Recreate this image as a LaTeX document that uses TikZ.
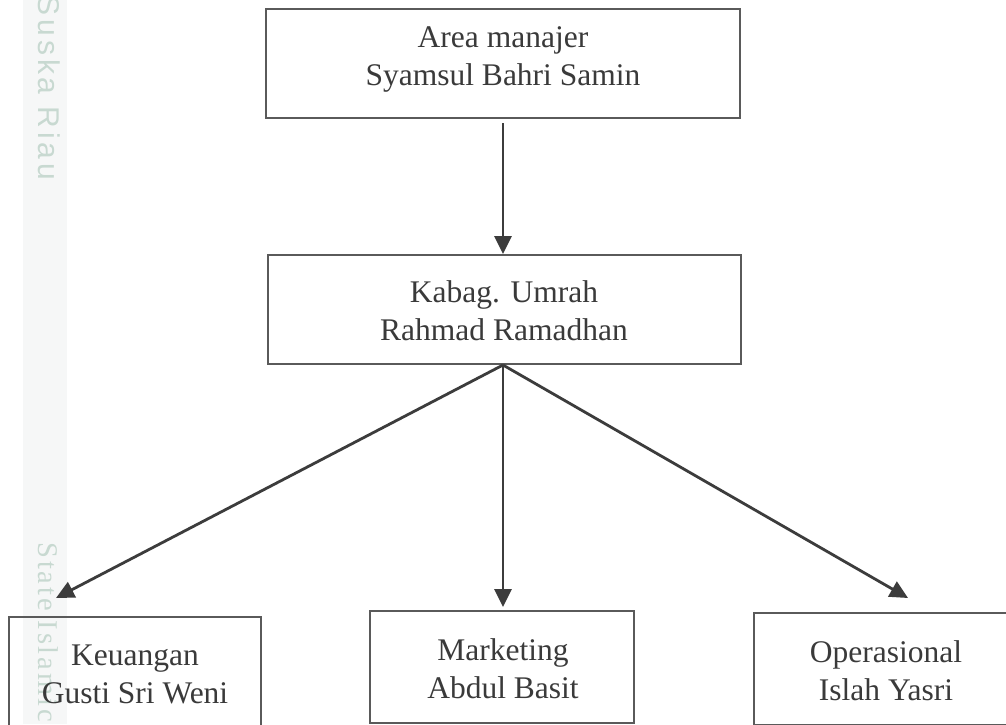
\documentclass[tikz,border=0pt]{standalone}
\usepackage{fontspec}
\setmainfont{Liberation Serif}
\newfontfamily\wmsans[LetterSpace=13]{Liberation Sans}
\newfontfamily\wmserif[LetterSpace=10]{Liberation Serif}
\usetikzlibrary{arrows.meta}
\definecolor{txt}{HTML}{3A3A3A}
\definecolor{edge}{HTML}{5A5A5A}
\definecolor{arr}{HTML}{3C3C3C}
\definecolor{wm}{HTML}{C8D9D1}
\definecolor{band}{HTML}{F6F7F7}
\begin{document}
\begin{tikzpicture}[x=1pt,y=-1pt,
  box/.style={draw=edge,line width=1.8pt,inner sep=0pt},
  lbl/.style={text=txt,align=center,inner sep=0pt,font=\fontsize{31.5}{38}\selectfont},
  conn/.style={draw=arr,line width=2.8pt,-{Triangle[length=18pt,width=17pt]}},
  wmtext/.style={text=wm,rotate=-90,inner sep=0pt}]
\useasboundingbox (0,0) rectangle (1006,724);
\fill[white] (0,0) rectangle (1006,724);
% watermark
\fill[band] (23,0) rectangle (67,724);
\node[wmtext,font=\wmsans\fontsize{30}{30}\selectfont] (wm1) at (49,88) {Suska Riau};
\node[wmtext,font=\wmserif\fontsize{28.5}{28.5}\selectfont] (wm2) at (48,632) {State Islamic};
% boxes
\node[box,minimum width=474pt,minimum height=109pt] (b1) at (503,63.5) {};
\node[box,minimum width=473pt,minimum height=109pt] (b2) at (504.5,309.5) {};
\node[box,minimum width=252pt,minimum height=112pt] (b3) at (135,673) {};
\node[box,minimum width=264pt,minimum height=112pt] (b4) at (502,667) {};
\node[box,minimum width=264pt,minimum height=112pt] (b5) at (886,669) {};
% texts
\node[lbl] (t1) at (503,58.4) {\strut Area manajer\\\strut Syamsul Bahri Samin};
\node[lbl] (t2) at (504,313.4) {\strut Kabag. Umrah\\\strut Rahmad Ramadhan};
\node[lbl] (t3) at (135,676.4) {\strut Keuangan\\\strut Gusti Sri Weni};
\node[lbl] (t4) at (503,671.4) {\strut Marketing\\\strut Abdul Basit};
\node[lbl] (t5) at (886,673.4) {\strut Operasional\\\strut Islah Yasri};
% connectors
\coordinate (top) at (503,123);
\coordinate (hub) at (503,365);
\coordinate (endL) at (56,598);
\coordinate (endM) at (503,607);
\coordinate (endR) at (908,598);
\draw[conn] (top) -- (top |- b2.north);
\draw[conn] (hub) -- (endL);
\draw[conn] (hub) -- (endM);
\draw[conn] (hub) -- (endR);
\end{tikzpicture}
\end{document}
